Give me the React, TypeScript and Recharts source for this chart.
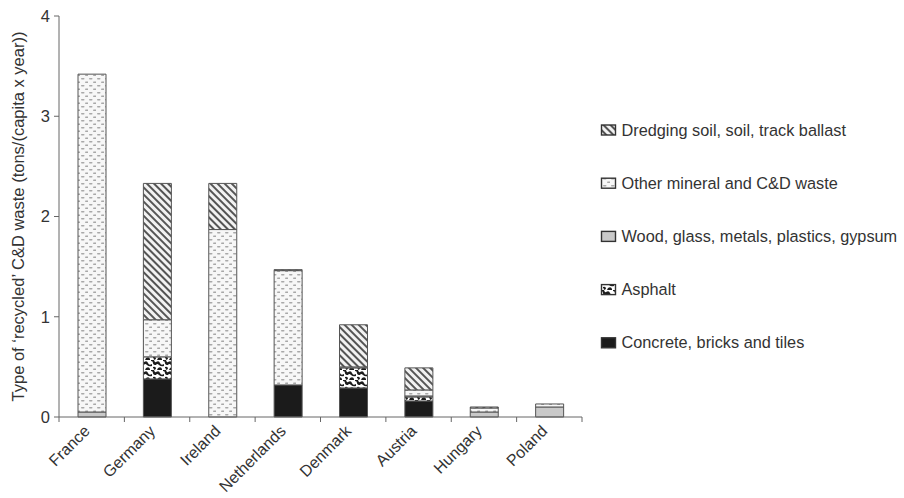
import React from 'react';
import { BarChart, Bar, XAxis, YAxis, Label } from 'recharts';

const categories = ['France', 'Germany', 'Ireland', 'Netherlands', 'Denmark', 'Austria', 'Hungary', 'Poland'];
const concrete = [0, 0.38, 0, 0.32, 0.29, 0.16, 0, 0];
const asphalt = [0, 0.22, 0, 0, 0.2, 0.04, 0, 0];
const wood = [0.05, 0, 0, 0, 0.01, 0.01, 0.05, 0.1];
const otherMineral = [3.37, 0.37, 1.87, 1.14, 0, 0.06, 0.04, 0.03];
const dredging = [0, 1.36, 0.46, 0.01, 0.42, 0.22, 0.01, 0];
const yTicks = [0, 1, 2, 3, 4];

const seriesNames = {
  dredging: 'Dredging soil, soil, track ballast',
  other: 'Other mineral and C&D waste',
  wood: 'Wood, glass, metals, plastics, gypsum',
  asphalt: 'Asphalt',
  concrete: 'Concrete, bricks and tiles',
};

const yLabel = 'Type of \u2018recycled\u2019 C&D waste (tons/(capita x year))';

const data = categories.map((c, i) => ({
  name: c,
  concrete: concrete[i],
  asphalt: asphalt[i],
  wood: wood[i],
  other: otherMineral[i],
  dredging: dredging[i],
}));

const FONT = '"Liberation Sans", Arial, Helvetica, sans-serif';

const Patterns = ({ p }: { p: string }) => (
  <defs>
    <pattern id={`${p}hatch`} width="5" height="5" patternUnits="userSpaceOnUse" patternTransform="rotate(45)">
      <rect width="5" height="5" fill="#f2f2f2" />
      <rect x="0" y="0" width="5" height="2" fill="#555" />
    </pattern>
    <pattern id={`${p}dots`} width="8" height="7" patternUnits="userSpaceOnUse">
      <rect width="8" height="7" fill="#f7f7f7" />
      <rect x="1" y="1" width="3.5" height="1.6" rx="0.8" fill="#a8a8a8" />
      <rect x="5" y="4.5" width="3.5" height="1.6" rx="0.8" fill="#a8a8a8" />
    </pattern>
    <pattern id={`${p}asph`} width="12" height="10" patternUnits="userSpaceOnUse">
      <rect width="12" height="10" fill="#ffffff" />
      <path d="M0 2 Q3 0 4 3 T8 4 L8 6 Q5 7 3 5 T0 5 Z" fill="#1c1c1c" />
      <path d="M7 0 L10 0 Q11 3 12 2 L12 5 Q9 5 9 3 T7 1 Z" fill="#1c1c1c" />
      <path d="M2 8 Q5 6 6 9 L6 10 L1 10 Z" fill="#1c1c1c" />
      <path d="M9 7 Q12 6 12 9 L10 10 Q10 8 9 8 Z" fill="#1c1c1c" />
    </pattern>
  </defs>
);

const XTick = (props: any) => {
  const { x, y, payload, index } = props;
  const off = payload && payload.offset ? payload.offset : 32.7;
  const tx = x - 1;
  const ty = y + 15;
  return (
    <g>
      {index === 0 && <line x1={x - off} x2={x - off} y1={y} y2={y + 5} stroke="#666" />}
      <line x1={x + off} x2={x + off} y1={y} y2={y + 5} stroke="#666" />
      <text
        x={tx}
        y={ty}
        transform={`rotate(-45 ${tx} ${ty})`}
        textAnchor="end"
        fill="#333"
        fontSize={16}
        fontFamily={FONT}
      >
        {payload.value}
      </text>
    </g>
  );
};

const YLabel = (props: any) => {
  const vb = props.viewBox || { x: 0, y: 16, width: 59, height: 401 };
  const cx = vb.x + 18;
  const cy = vb.y + vb.height / 2;
  return (
    <text
      x={cx}
      y={cy}
      transform={`rotate(-90 ${cx} ${cy})`}
      textAnchor="middle"
      dominantBaseline="central"
      fill="#333"
      fontSize={16.5}
      fontFamily={FONT}
    >
      {yLabel}
    </text>
  );
};

const legendItems = [
  { key: 'dredging', fill: 'url(#lhatch)' },
  { key: 'other', fill: 'url(#ldots)' },
  { key: 'wood', fill: '#c9c9c9' },
  { key: 'asphalt', fill: 'url(#lasph)' },
  { key: 'concrete', fill: '#1b1b1b' },
];

const LegendBox = () => (
  <svg width={310} height={260} style={{ position: 'absolute', left: 594, top: 100 }}>
    <Patterns p="l" />
    {legendItems.map((it, i) => {
      const cy = 29.5 + i * 53.2;
      return (
        <g key={it.key}>
          <rect x={7.5} y={cy - 4.5} width={14} height={10} fill={it.fill} stroke="#333" strokeWidth={1.4} />
          <text x={27.5} y={cy} dominantBaseline="central" fill="#333" fontSize={16.3} fontFamily={FONT}>
            {(seriesNames as any)[it.key]}
          </text>
        </g>
      );
    })}
  </svg>
);

export default function App() {
  return (
    <div style={{ position: 'absolute', left: 0, top: 0, width: 904, height: 498, background: '#fff' }}>
      <BarChart
        width={904}
        height={498}
        data={data}
        margin={{ top: 16, right: 322, bottom: 0, left: 0 }}
        barSize={28}
      >
        <Patterns p="c" />
        <XAxis
          dataKey="name"
          stroke="#666"
          tickLine={false}
          tickSize={0}
          tickMargin={0}
          height={81}
          interval={0}
          tick={<XTick />}
        />
        <YAxis
          width={59}
          domain={[0, 4]}
          ticks={yTicks}
          stroke="#666"
          tickSize={5}
          tickMargin={4}
          tick={{ fill: '#333', fontSize: 16.5, fontFamily: FONT }}
        >
          <Label content={<YLabel />} />
        </YAxis>
        <Bar dataKey="concrete" stackId="a" fill="#1b1b1b" stroke="#555" strokeWidth={1} isAnimationActive={false} />
        <Bar dataKey="asphalt" stackId="a" fill="url(#casph)" stroke="#555" strokeWidth={1} isAnimationActive={false} />
        <Bar dataKey="wood" stackId="a" fill="#c9c9c9" stroke="#555" strokeWidth={1} isAnimationActive={false} />
        <Bar dataKey="other" stackId="a" fill="url(#cdots)" stroke="#555" strokeWidth={1} isAnimationActive={false} />
        <Bar dataKey="dredging" stackId="a" fill="url(#chatch)" stroke="#555" strokeWidth={1} isAnimationActive={false} />
      </BarChart>
      <LegendBox />
    </div>
  );
}
